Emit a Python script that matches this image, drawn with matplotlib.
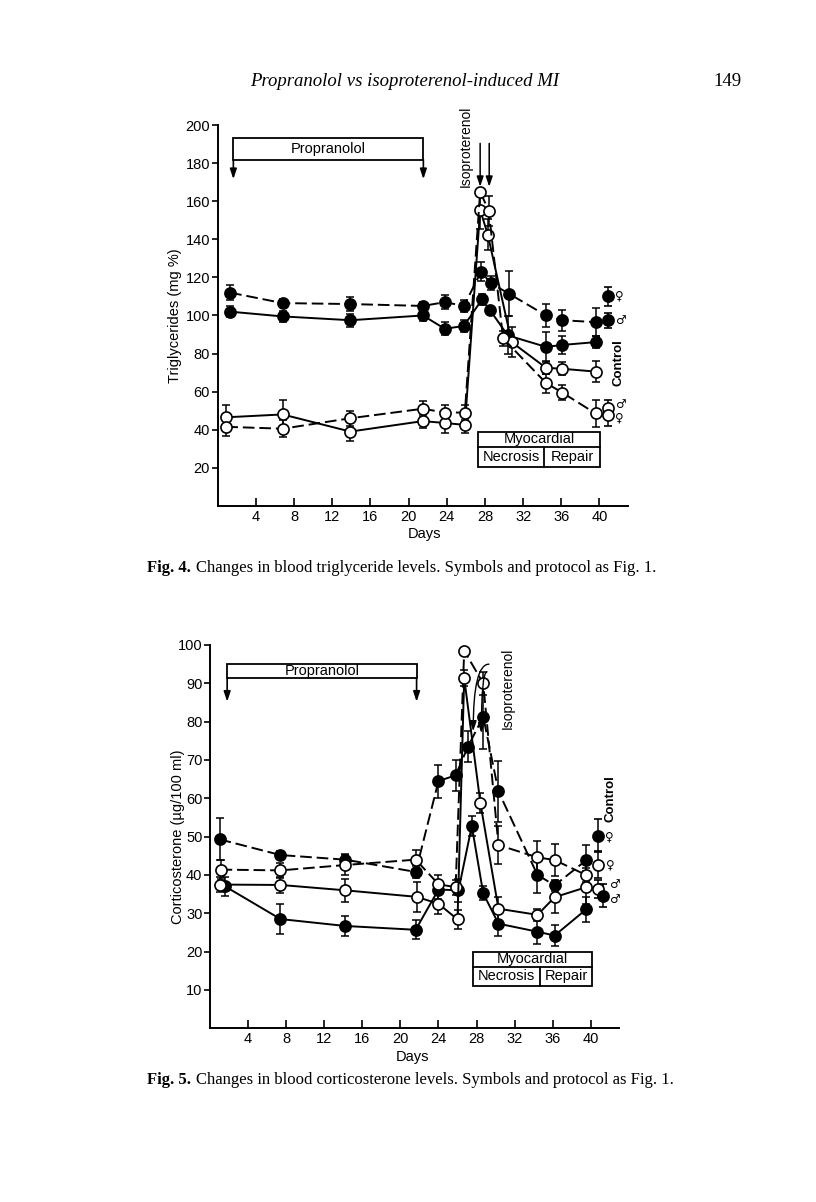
import matplotlib
matplotlib.use("Agg")
import matplotlib.pyplot as plt
from matplotlib.patches import Rectangle

plt.rcParams["font.family"] = ["Liberation Sans", "DejaVu Sans"]

# ---- Fig. 4 : triglycerides (mg %) ----
tg_fd_days = [1.3, 6.8, 13.9, 21.5, 23.8, 25.8, 27.6, 28.6, 30.5, 34.4, 36.1, 39.6]
tg_fd_vals = [112, 106.5, 106, 105, 107, 105, 123, 117, 111.5, 100, 97.5, 96.5]
tg_fd_err = [4, 2, 3.5, 2, 3.5, 3, 5, 3.5, 12, 6, 5.5, 7.5]

tg_fs_days = [1.3, 6.8, 13.9, 21.5, 23.8, 25.8, 27.7, 28.5, 30.4, 34.4, 36.1, 39.6]
tg_fs_vals = [102, 99.5, 97.5, 100, 93, 94.5, 108.5, 103, 89.5, 83.5, 84.5, 86]
tg_fs_err = [3, 3, 3.5, 3, 3.5, 3, 3, 1.5, 10, 8, 4.5, 3]

tg_os_days = [0.9, 6.8, 13.9, 21.5, 23.8, 25.9, 27.5, 28.3, 30.8, 34.4, 36.1, 39.6]
tg_os_vals = [46.5, 48, 39, 44.5, 43.5, 42.5, 155.5, 142.5, 86, 72.5, 72, 70.5]
tg_os_err = [6.5, 7.5, 5, 3.5, 5.5, 4.5, 10, 8, 8, 3.5, 3.5, 5.5]

tg_od_days = [0.9, 6.8, 13.9, 21.5, 23.8, 25.9, 27.5, 28.4, 29.9, 34.4, 36.1, 39.6]
tg_od_vals = [41.5, 40.5, 46, 51, 49, 49, 165, 155, 88, 64.5, 59.5, 48.5]
tg_od_err = [5, 4.5, 4, 4, 4, 4, 0, 8, 4, 5, 4, 7]

# controls: filled F, filled M, open M, open F
tg_ctrl_day = 40.9
tg_ctrl_vals = [110, 97.5, 51.5, 47.5]
tg_ctrl_err = [5, 4, 4, 5.5]
tg_ctrl_filled = [True, True, False, False]
tg_ctrl_sex = ["♀", "♂", "♂", "♀"]
tg_sex_y = [110, 97.5, 53, 46]

# ---- Fig. 5 : corticosterone (ug/100 ml) ----
co_fd_days = [1.0, 7.4, 14.2, 21.6, 24.0, 25.8, 27.1, 28.7, 30.3, 34.4, 36.2, 39.5]
co_fd_vals = [49.3, 45.2, 44.0, 40.8, 64.5, 66, 73.5, 81.3, 61.8, 40, 37.3, 43.8]
co_fd_err = [5.5, 1, 1.5, 1.5, 4.3, 4, 4, 8.5, 8, 4.8, 1.5, 4]

co_fs_days = [1.6, 7.4, 14.2, 21.6, 24.0, 26.1, 27.5, 28.7, 30.3, 34.4, 36.2, 39.5]
co_fs_vals = [37, 28.5, 26.7, 25.7, 36.2, 36, 52.8, 35.2, 27.3, 25.2, 24.2, 31]
co_fs_err = [2.5, 4, 2.7, 2.5, 2.5, 3, 2.5, 1.8, 3.2, 3.2, 2.8, 3.2]

co_od_days = [1.1, 7.4, 14.2, 21.6, 24.0, 25.8, 26.7, 28.7, 30.3, 34.4, 36.2, 39.5]
co_od_vals = [41.4, 41.2, 42.6, 44, 37.6, 36.8, 98.5, 90, 47.8, 44.6, 43.9, 40]
co_od_err = [2.5, 2, 2.6, 2.5, 2.5, 2, 0, 3, 5, 4.3, 4.2, 1.8]

co_os_days = [1.0, 7.4, 14.2, 21.7, 24.0, 26.0, 26.7, 28.4, 30.3, 34.4, 36.2, 39.5]
co_os_vals = [37.5, 37.4, 36.0, 34.3, 32.5, 28.4, 91.4, 58.8, 31.2, 29.6, 34.2, 36.8]
co_os_err = [2, 2.2, 3, 4, 2.7, 2.5, 2, 2.6, 3, 1.5, 4, 4.3]

co_ctrl_days = [40.8, 40.8, 40.8, 41.3]
co_ctrl_vals = [50.3, 42.7, 36.3, 34.6]
co_ctrl_err = [4.3, 3.5, 2.3, 3]
co_ctrl_filled = [True, False, False, True]
co_ctrl_sex = ["♀", "♀", "♂", "♂"]
co_sex_y = [50.0, 42.7, 37.6, 33.6]

x_ticks = [4, 8, 12, 16, 20, 24, 28, 32, 36, 40]
tg_yticks = [20, 40, 60, 80, 100, 120, 140, 160, 180, 200]
co_yticks = [10, 20, 30, 40, 50, 60, 70, 80, 90, 100]

LW = 1.4
DASH = (6, 2.5)
SYM = ["DejaVu Sans"]


def series(ax, days, vals, errs, filled, dashed):
    face = "black" if filled else "white"
    ax.errorbar(days, vals, yerr=errs, fmt="none", ecolor="black",
                elinewidth=1.1, capsize=3.2, capthick=1.1, zorder=2)
    line, = ax.plot(days, vals, color="black", lw=LW, zorder=3,
                    marker="o", ms=8, mfc=face, mec="black", mew=1.2)
    if dashed:
        line.set_dashes(DASH)


def control(ax, days, vals, errs, filled):
    for d, v, e, f in zip(days, vals, errs, filled):
        ax.errorbar([d], [v], yerr=[e], fmt="o", ms=8, mec="black", mew=1.2,
                    mfc="black" if f else "white", ecolor="black",
                    elinewidth=1.1, capsize=3.2, capthick=1.1, zorder=4)


def style_axes(ax, ymax, yticks):
    ax.set_xlim(0, 43)
    ax.set_ylim(0, ymax)
    ax.spines["top"].set_visible(False)
    ax.spines["right"].set_visible(False)
    ax.spines["left"].set_linewidth(1.4)
    ax.spines["bottom"].set_linewidth(1.4)
    ax.set_xticks(x_ticks)
    ax.set_yticks(yticks)
    ax.tick_params(axis="x", direction="in", length=6, width=1.2, pad=3, labelsize=10.5)
    ax.tick_params(axis="y", direction="out", length=4, width=1.2, pad=1.5, labelsize=10.5)
    ax.set_xlabel("Days", fontsize=10.5, va="top")


def box_with_arrows(ax, x0, x1, y0, y1, ytip, label):
    ax.add_patch(Rectangle((x0, y0), x1 - x0, y1 - y0, fill=False, lw=1.3,
                           ec="black", clip_on=False))
    for x in (x0, x1):
        ax.annotate("", xy=(x, ytip), xytext=(x, y0), annotation_clip=False,
                    arrowprops=dict(arrowstyle="-|>,head_length=0.6,head_width=0.2",
                                    lw=1.2, color="black", shrinkA=0, shrinkB=0))
    ax.text((x0 + x1) / 2, (y0 + y1) / 2, label, ha="center", va="center",
            fontsize=10.5)


def myo_box(ax, x0, x1, xm, y0, ym, y1):
    ax.add_patch(Rectangle((x0, y0), x1 - x0, y1 - y0, fill=False, lw=1.3,
                           ec="black", clip_on=False, zorder=5))
    ax.plot([x0, x1], [ym, ym], color="black", lw=1.3, zorder=5)
    ax.plot([xm, xm], [y0, ym], color="black", lw=1.3, zorder=5)
    ax.text((x0 + x1) / 2, (ym + y1) / 2, "Myocardial", ha="center", va="center", fontsize=10.5)
    ax.text((x0 + xm) / 2, (y0 + ym) / 2, "Necrosis", ha="center", va="center", fontsize=10.5)
    ax.text((xm + x1) / 2, (y0 + ym) / 2, "Repair", ha="center", va="center", fontsize=10.5)


fig = plt.figure(figsize=(8.16, 12.02), dpi=100)

# ----- top panel -----
ax1 = fig.add_axes([0.2668, 0.5792, 0.5029, 0.3167])
style_axes(ax1, 200, tg_yticks)
series(ax1, tg_fd_days, tg_fd_vals, tg_fd_err, True, True)
series(ax1, tg_fs_days, tg_fs_vals, tg_fs_err, True, False)
series(ax1, tg_os_days, tg_os_vals, tg_os_err, False, False)
series(ax1, tg_od_days, tg_od_vals, tg_od_err, False, True)
control(ax1, [tg_ctrl_day] * 4, tg_ctrl_vals, tg_ctrl_err, tg_ctrl_filled)
for v, s in zip(tg_sex_y, tg_ctrl_sex):
    ax1.text(41.6, v, s, ha="left", va="center", fontsize=8.5, family=SYM, clip_on=False)
ax1.text(42.0, 75, "Control", rotation=90, ha="center", va="center",
         fontsize=9.5, fontweight="bold", clip_on=False)
ax1.set_ylabel("Triglycerides (mg %)", fontsize=10.5)
ax1.yaxis.set_label_coords(-0.087, 0.5)
ax1.xaxis.set_label_coords(0.505, -0.055)

box_with_arrows(ax1, 1.64, 21.55, 181.9, 193.4, 171.6, "Propranolol")
myo_box(ax1, 27.3, 40.1, 34.2, 20.5, 31, 39)
ax1.text(26.0, 189, "Isoproterenol", rotation=90, ha="center", va="center",
         fontsize=10, clip_on=False)
for x in (27.5, 28.45):
    ax1.annotate("", xy=(x, 167.6), xytext=(x, 190.4), annotation_clip=False,
                 arrowprops=dict(arrowstyle="-|>,head_length=0.6,head_width=0.2",
                                 lw=1.1, color="black", shrinkA=0, shrinkB=0))

# ----- bottom panel -----
ax2 = fig.add_axes([0.2574, 0.1445, 0.5016, 0.3189])
style_axes(ax2, 100, co_yticks)
series(ax2, co_fd_days, co_fd_vals, co_fd_err, True, True)
series(ax2, co_fs_days, co_fs_vals, co_fs_err, True, False)
series(ax2, co_od_days, co_od_vals, co_od_err, False, True)
series(ax2, co_os_days, co_os_vals, co_os_err, False, False)
control(ax2, co_ctrl_days, co_ctrl_vals, co_ctrl_err, co_ctrl_filled)
for v, s, x in zip(co_sex_y, co_ctrl_sex, [41.5, 41.6, 41.9, 41.9]):
    ax2.text(x, v, s, ha="left", va="center", fontsize=8.5, family=SYM, clip_on=False)
ax2.text(42.1, 60, "Control", rotation=90, ha="center", va="center",
         fontsize=9.5, fontweight="bold", clip_on=False)
ax2.set_ylabel("Corticosterone (µg/100 ml)", fontsize=10.5)
ax2.yaxis.set_label_coords(-0.061, 0.5)
ax2.xaxis.set_label_coords(0.494, -0.056)

box_with_arrows(ax2, 1.8, 21.7, 91.3, 95.0, 85.2, "Propranolol")
myo_box(ax2, 27.65, 40.1, 34.7, 11.1, 16.1, 20.0)
ax2.text(31.3, 88.8, "Isoproterenol", rotation=90, ha="center", va="center",
         fontsize=10, clip_on=False)
for (xs, ys), (xe, ye) in [((29.3, 95.0), (27.65, 77.5)), ((29.1, 93.0), (28.5, 77.0))]:
    ax2.annotate("", xy=(xe, ye), xytext=(xs, ys), annotation_clip=False,
                 arrowprops=dict(arrowstyle="-|>,head_length=0.6,head_width=0.2",
                                 lw=1.0, color="black", shrinkA=0, shrinkB=0,
                                 connectionstyle="angle3,angleA=0,angleB=90"))

# ----- page text -----
fig.text(405 / 816, 1 - 82 / 1202, "Propranolol vs isoproterenol-induced MI",
         ha="center", va="center", fontsize=13.5, style="italic", family="Liberation Serif")
fig.text(727 / 816, 1 - 82 / 1202, "149", ha="center", va="center",
         fontsize=13.5, family="Liberation Serif")

fig.canvas.draw()
renderer = fig.canvas.get_renderer()
for ypix, num, rest in [(568, "4", "Changes in blood triglyceride levels. Symbols and protocol as Fig. 1."),
                        (1080, "5", "Changes in blood corticosterone levels. Symbols and protocol as Fig. 1.")]:
    t = fig.text(147 / 816, 1 - ypix / 1202, "Fig. " + num + ".", ha="left", va="center",
                 fontsize=12, fontweight="bold", family="Liberation Serif")
    bb = t.get_window_extent(renderer)
    fig.text((bb.x1 + 5) / 816, 1 - ypix / 1202, rest, ha="left", va="center",
             fontsize=12, family="Liberation Serif")

fig.savefig("out.png", dpi=100)
